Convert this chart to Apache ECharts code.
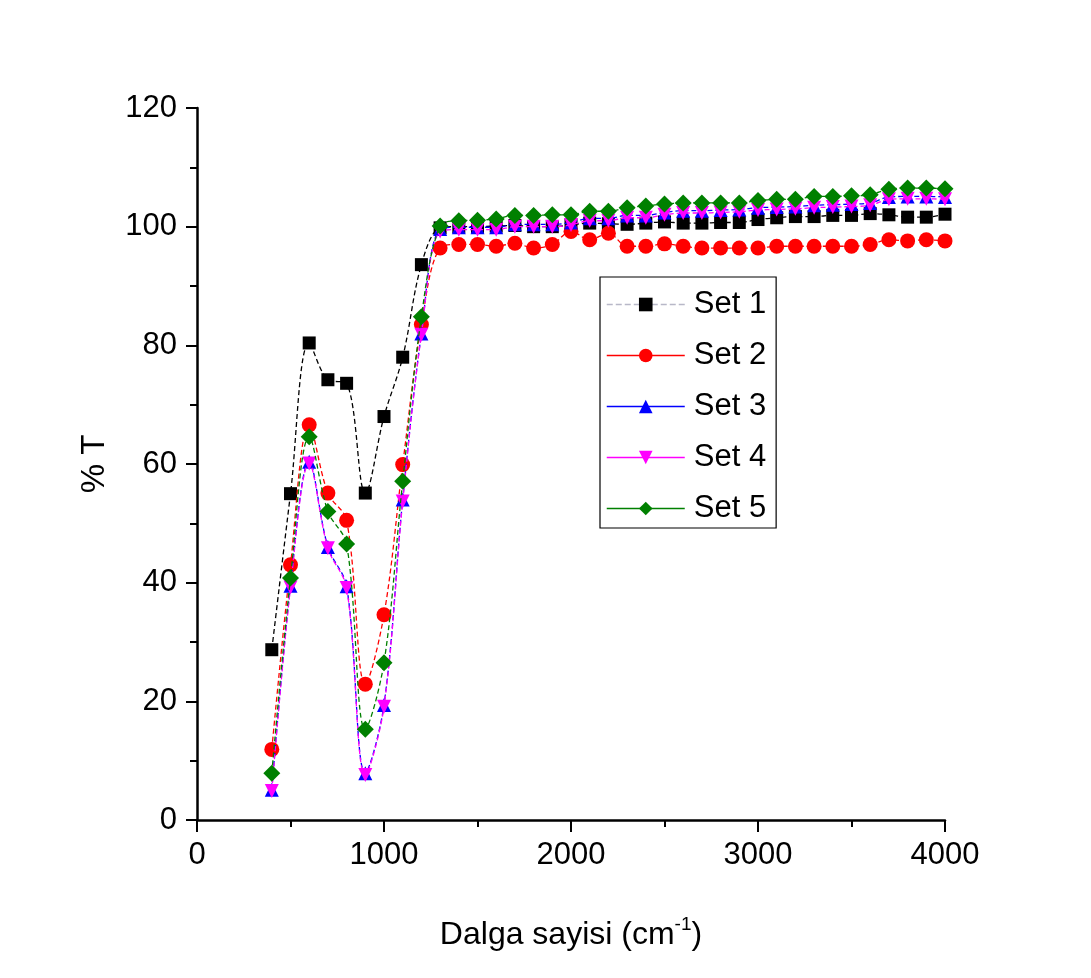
<!DOCTYPE html>
<html>
<head>
<meta charset="utf-8">
<script src="https://cdn.jsdelivr.net/npm/echarts@6/dist/echarts.min.js"></script>
<style>
html,body{margin:0;padding:0;background:#fff;}
#chart{width:1091px;height:978px;}
</style>
</head>
<body>
<div id="chart"></div>
<script>
const wavenumbers = [400,500,600,700,800,900,1000,1100,1200,1300,1400,1500,1600,1700,1800,1900,2000,2100,2200,2300,2400,2500,2600,2700,2800,2900,3000,3100,3200,3300,3400,3500,3600,3700,3800,3900,4000];
const set1 = [28.7,55.0,80.4,74.2,73.6,55.1,68.0,78.0,93.6,99.8,100.0,100.0,100.1,100.2,100.0,100.0,100.3,100.6,100.5,100.4,100.6,100.8,100.6,100.6,100.7,100.7,101.2,101.5,101.7,101.7,101.9,101.9,102.2,102.0,101.6,101.6,102.1];
const set2 = [11.9,43.0,66.6,55.1,50.5,22.9,34.6,59.9,83.5,96.4,97.0,97.0,96.7,97.2,96.4,97.0,99.2,97.8,98.9,96.7,96.7,97.1,96.7,96.4,96.4,96.4,96.4,96.7,96.7,96.7,96.7,96.7,97.0,97.8,97.6,97.8,97.6];
const set3 = [5.1,39.5,60.4,46.0,39.4,7.9,19.4,54.0,82.0,99.6,99.9,99.9,99.9,100.4,100.4,100.4,100.7,101.4,101.4,101.9,101.9,102.4,102.7,102.7,102.8,102.9,103.2,103.3,103.4,103.6,103.7,103.8,104.0,105.0,105.1,105.1,105.0];
const set4 = [4.9,39.2,60.1,45.8,39.1,7.6,19.1,53.7,81.8,99.2,99.5,99.5,99.5,100.0,100.0,100.0,100.3,101.0,101.0,101.5,101.5,102.0,102.3,102.3,102.4,102.5,102.8,102.9,103.0,103.2,103.3,103.4,103.6,104.6,104.7,104.7,104.6];
const set5 = [7.9,40.8,64.6,52.0,46.5,15.3,26.5,57.1,84.8,100.1,101.0,101.1,101.3,101.9,101.9,102.0,102.0,102.6,102.6,103.2,103.5,103.8,104.0,104.0,104.0,104.0,104.4,104.6,104.6,105.1,105.1,105.2,105.4,106.3,106.5,106.5,106.4];
const seriesNames = ['Set 1','Set 2','Set 3','Set 4','Set 5'];
const xTickLabels = ['0','1000','2000','3000','4000'];
const yTickLabels = ['0','20','40','60','80','100','120'];

const FONT = '"Liberation Sans", Arial, sans-serif';
const pair = arr => wavenumbers.map((x, i) => [x, arr[i]]);

const styles = [
  {color:'#000000', symbol:'rect', size:13, rotate:0},
  {color:'#ff0000', symbol:'circle', size:15, rotate:0},
  {color:'#0000ff', symbol:'triangle', size:14, rotate:0},
  {color:'#ff00ff', symbol:'triangle', size:14, rotate:180},
  {color:'#008000', symbol:'diamond', size:17, rotate:0}
];
const dataSets = [set1, set2, set3, set4, set5];

const chart = echarts.init(document.getElementById('chart'), null, {renderer:'canvas'});
const axisStyle = {lineStyle:{color:'#000', width:2.5}};
chart.setOption({
  backgroundColor:'#ffffff',
  animation:false,
  grid:{left:197, right:146, top:108, bottom:158, containLabel:false},
  legend:{
    orient:'vertical', left:600, top:277,
    backgroundColor:'#fff',
    borderColor:'#000', borderWidth:1.2,
    padding:[12, 10, 4, 6],
    itemWidth:78, itemHeight:17, itemGap:20,
    textStyle:{fontFamily:FONT, fontSize:31, color:'#000', lineHeight:30, padding:[0,0,0,4]},
    data: seriesNames.map((n, i) => ({
      name:n,
      lineStyle: i === 0 ? {color:'#b8b8c8', type:'dashed', width:1.5} : {color:styles[i].color, type:'solid', width:1.5}
    }))
  },
  xAxis:{
    type:'value', min:0, max:4000, interval:1000,
    name:'{a|Dalga sayisi (cm}{s|-1}{a|)}',
    nameLocation:'middle', nameGap:95,
    nameTextStyle:{rich:{
      a:{fontFamily:FONT, fontSize:32, color:'#000', lineHeight:40},
      s:{fontFamily:FONT, fontSize:19, color:'#000', verticalAlign:'top', lineHeight:40, padding:[0,0,14,0]}
    }},
    axisLine:axisStyle,
    axisTick:{show:true, inside:false, length:12, lineStyle:{color:'#000', width:2}},
    minorTick:{show:true, splitNumber:2, length:7, lineStyle:{color:'#000', width:2}},
    splitLine:{show:false},
    axisLabel:{margin:20, fontFamily:FONT, fontSize:31, color:'#000',
      formatter: v => xTickLabels[Math.round(v/1000)] }
  },
  yAxis:{
    type:'value', min:0, max:120, interval:20,
    name:'% T', nameLocation:'middle', nameGap:86, nameRotate:90,
    nameTextStyle:{fontFamily:FONT, fontSize:33, color:'#000'},
    axisLine:axisStyle,
    axisTick:{show:true, inside:false, length:11, lineStyle:{color:'#000', width:2}},
    minorTick:{show:true, splitNumber:2, length:7, lineStyle:{color:'#000', width:2}},
    splitLine:{show:false},
    axisLabel:{margin:20, fontFamily:FONT, fontSize:31, color:'#000',
      formatter: v => yTickLabels[Math.round(v/20)] }
  },
  series: dataSets.map((d, i) => ({
    name:seriesNames[i], type:'line', data:pair(d),
    smooth:0.35,
    symbol:styles[i].symbol, symbolSize:styles[i].size, symbolRotate:styles[i].rotate,
    showAllSymbol:true,
    itemStyle:{color:styles[i].color},
    lineStyle:{color:styles[i].color, width:1.3, type:[5,3]},
    z: 2 + i
  }))
});
</script>
</body>
</html>
